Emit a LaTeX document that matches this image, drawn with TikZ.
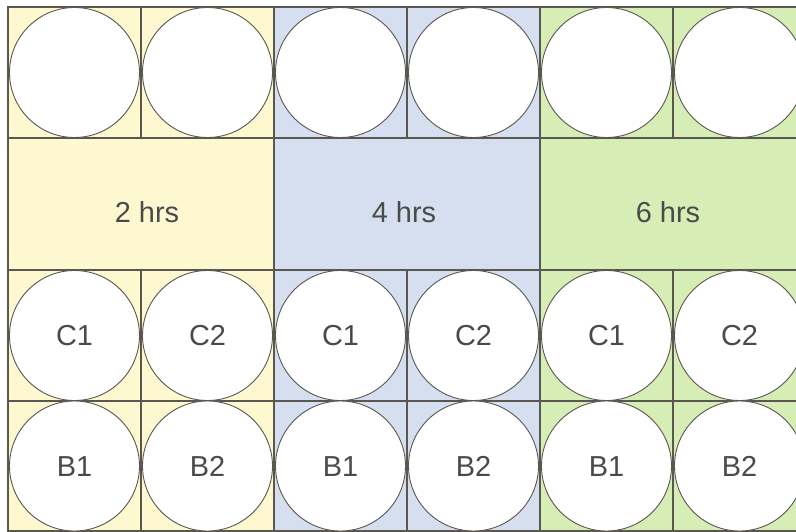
\documentclass[tikz,border=0pt]{standalone}
\usepackage{fontspec}
\setmainfont{Liberation Sans}
\definecolor{wellY}{HTML}{FDF8D0}
\definecolor{wellB}{HTML}{D6DFEF}
\definecolor{wellG}{HTML}{D6EDB5}
\definecolor{gridc}{HTML}{5A5650}
\definecolor{txt}{HTML}{4A4A4A}
\begin{document}
\begin{tikzpicture}[x=1bp,y=-1bp,
  well/.style={circle, draw=gridc, line width=0.9bp, fill=white,
    minimum size=130bp, inner sep=0pt, font=\fontsize{29}{32}\selectfont, text=txt,
    text height=20.8bp, text depth=0pt},
  gridline/.style={draw=gridc, line width=1.2bp},
  frameline/.style={draw=gridc, line width=2.2bp},
  hrs/.style={font=\fontsize{29}{32}\selectfont, text=txt,
    text height=20.8bp, text depth=0pt}]
\useasboundingbox (0,0) rectangle (796,532);
\begin{scope}
\clip (0,0) rectangle (796,532);
\fill[wellY] (8,7) rectangle (274,531);
\fill[wellB] (274,7) rectangle (540,531);
\fill[wellG] (540,7) rectangle (806,531);
\foreach \y in {138,270,401} \draw[gridline] (8,\y) -- (806,\y);
\foreach \x in {141,274,407,540,673} {
  \draw[gridline] (\x,7) -- (\x,138);
  \draw[gridline] (\x,270) -- (\x,531);
}
\foreach \x in {274,540} \draw[gridline] (\x,138) -- (\x,270);
\draw[frameline] (806,7) -- (8,7) -- (8,531) -- (806,531);
% top row wells
\node[well] (t1) at (74.5,72.5) {};
\node[well] (t2) at (207.5,72.5) {};
\node[well] (t3) at (340.5,72.5) {};
\node[well] (t4) at (473.5,72.5) {};
\node[well] (t5) at (606.5,72.5) {};
\node[well] (t6) at (739.5,72.5) {};
% labels
\node[hrs] (h2) at (147,212) {2 hrs};
\node[hrs] (h4) at (404,212) {4 hrs};
\node[hrs] (h6) at (668,212) {6 hrs};
% C row
\node[well] (c1a) at (74.5,335.5) {C1};
\node[well] (c2a) at (207.5,335.5) {C2};
\node[well] (c1b) at (340.5,335.5) {C1};
\node[well] (c2b) at (473.5,335.5) {C2};
\node[well] (c1c) at (606.5,335.5) {C1};
\node[well] (c2c) at (739.5,335.5) {C2};
% B row
\node[well] (b1a) at (74.5,466) {B1};
\node[well] (b2a) at (207.5,466) {B2};
\node[well] (b1b) at (340.5,466) {B1};
\node[well] (b2b) at (473.5,466) {B2};
\node[well] (b1c) at (606.5,466) {B1};
\node[well] (b2c) at (739.5,466) {B2};
\end{scope}
\end{tikzpicture}
\end{document}
